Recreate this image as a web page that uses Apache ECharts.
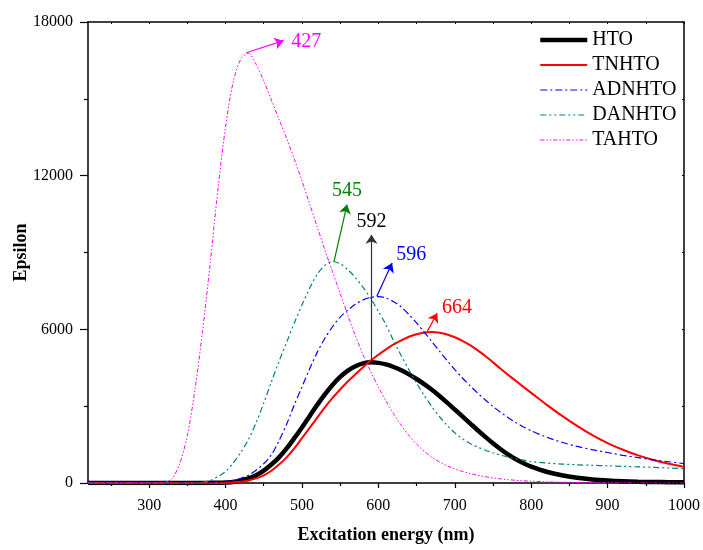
<!DOCTYPE html>
<html>
<head>
<meta charset="utf-8">
<script src="https://cdn.jsdelivr.net/npm/echarts@6/dist/echarts.min.js"></script>
<style>
    html, body { margin: 0; padding: 0; background: #fff; }
    #chart { width: 703px; height: 550px; }
</style>
</head>
<body>
<div id="chart"></div>
<script>
// wavelength grid (nm)
const wavelength = [220, 300, 310, 320, 330, 340, 350, 360, 370, 380, 390, 400, 410, 420, 430, 440, 450, 460, 470, 480, 490,
    500, 510, 520, 530, 540, 550, 560, 570, 580, 590, 600, 610, 620, 630, 640, 650, 660, 670, 680, 690,
    700, 710, 720, 730, 740, 750, 760, 770, 780, 790, 800, 820, 840, 860, 880, 900, 920, 940, 960, 980, 1000];

// epsilon values on that grid
const hto = [0, 0, 0, 0, 0, 0, 0, 0, 0, 5, 10, 20, 40, 100, 180, 300, 480, 720, 1000, 1350, 1750,
    2170, 2610, 3050, 3460, 3830, 4140, 4390, 4560, 4670, 4710, 4690, 4630, 4530, 4400, 4240, 4060, 3860, 3640, 3400, 3140,
    2870, 2600, 2330, 2060, 1800, 1550, 1320, 1110, 925, 770, 640, 440, 300, 205, 140, 95, 65, 48, 38, 32, 28];
const tnhto = [0, 0, 0, 0, 0, 0, 0, 0, 0, 0, 0, 0, 20, 50, 100, 180, 300, 480, 720, 1000, 1350,
    1750, 2150, 2550, 2950, 3320, 3650, 3960, 4250, 4520, 4780, 5010, 5220, 5410, 5570, 5710, 5810, 5880, 5900, 5870, 5800,
    5690, 5550, 5380, 5180, 4960, 4710, 4460, 4220, 3980, 3750, 3520, 3060, 2630, 2230, 1870, 1560, 1300, 1080, 900, 750, 630];
const adnhto = [0, 0, 0, 0, 0, 0, 0, 0, 0, 0, 20, 50, 100, 180, 300, 500, 750, 1100, 1650, 2300, 3050,
    3750, 4450, 5100, 5650, 6100, 6480, 6750, 6980, 7150, 7250, 7280, 7220, 7080, 6870, 6580, 6250, 5890, 5520, 5150, 4780,
    4430, 4100, 3800, 3510, 3240, 2990, 2760, 2550, 2360, 2190, 2040, 1790, 1590, 1430, 1300, 1190, 1080, 990, 900, 830, 760];
const danhto = [0, 0, 0, 0, 0, 0, 0, 0, 30, 100, 250, 450, 780, 1200, 1700, 2350, 3120, 3950, 4750, 5500, 6250,
    6950, 7600, 8150, 8500, 8650, 8560, 8330, 8020, 7640, 7200, 6710, 6180, 5550, 4970, 4420, 3900, 3420, 2980, 2590, 2250,
    1960, 1730, 1540, 1400, 1280, 1180, 1090, 1010, 940, 890, 840, 780, 740, 710, 690, 670, 650, 630, 610, 585, 560];
const tahto = [0, 0, 0, 20, 170, 750, 1850, 3650, 5950, 8600, 11450, 13900, 15650, 16550, 16780, 16350, 15700, 14950, 14200, 13450, 12650,
    11800, 10900, 10000, 9100, 8250, 7400, 6550, 5750, 5000, 4350, 3750, 3200, 2700, 2250, 1850, 1520, 1240, 1010, 820, 670,
    550, 450, 370, 300, 245, 200, 160, 130, 105, 85, 70, 45, 30, 20, 13, 8, 5, 3, 1, 0, 0];

const seriesNames = ["HTO", "TNHTO", "ADNHTO", "DANHTO", "TAHTO"];
const seriesValues = [hto, tnhto, adnhto, danhto, tahto];

// peak annotations: label, arrow start, arrow tip (nm, epsilon)
const peakLabels = ["592", "664", "596", "545", "427"];
const arrowFrom = [[591, 4720], [664, 5920], [598, 7290], [542, 8650], [427, 16800]];
const arrowTo = [[591, 9690], [677, 6630], [618, 8590], [559, 10870], [476, 17270]];

// tick values
const xMajorTicks = [300, 400, 500, 600, 700, 800, 900, 1000];
const xMinorTicks = [250, 350, 450, 550, 650, 750, 850, 950];
const xAllTicks = [250, 300, 350, 400, 450, 500, 550, 600, 650, 700, 750, 800, 850, 900, 950, 1000];

const font = "Liberation Serif";
const plain = function (v) { return String(v); };

const looks = [
    { color: "#000000", width: 4.5, type: "solid", arrow: "#333333", text: "#000000", align: "center", vAlign: "bottom", dist: [0, 3] },
    { color: "#ff0000", width: 2, type: "solid", arrow: "#ff0000", text: "#ff0000", align: "left", vAlign: "middle", dist: [10, 6] },
    { color: "#0000ff", width: 1.2, type: [7, 3, 2, 3], arrow: "#0000ff", text: "#0000ff", align: "left", vAlign: "middle", dist: [10, 9] },
    { color: "#008080", width: 1.2, type: [6, 3, 2, 3, 2, 3], arrow: "#008000", text: "#008000", align: "center", vAlign: "bottom", dist: [0, 4] },
    { color: "#ff00ff", width: 1, type: [4, 2, 1.5, 2, 1.5, 2], arrow: "#ff00ff", text: "#ff00ff", align: "left", vAlign: "middle", dist: [8, -4] },
];

const chart = echarts.init(document.getElementById("chart"), null, { renderer: "canvas" });

const series = seriesNames.map(function (name, i) {
    const lk = looks[i];
    return {
        name: name,
        type: "line",
        xAxisIndex: 0,
        yAxisIndex: 0,
        smooth: 0.3,
        symbol: "none",
        showSymbol: false,
        data: wavelength.map(function (w, k) { return [w, seriesValues[i][k]]; }),
        itemStyle: { color: lk.color },
        lineStyle: { color: lk.color, width: lk.width, type: lk.type },
        markLine: {
            silent: true,
            symbol: ["none", "arrow"],
            symbolSize: 9,
            lineStyle: { type: "solid", width: 1.2, color: lk.arrow },
            itemStyle: { color: lk.arrow },
            label: {
                show: true,
                position: "end",
                formatter: peakLabels[i],
                color: lk.text,
                fontSize: 20,
                fontFamily: font,
                align: lk.align,
                verticalAlign: lk.vAlign,
                distance: lk.dist,
            },
            emphasis: { disabled: true },
            data: [[{ coord: arrowFrom[i] }, { coord: arrowTo[i] }]],
        },
    };
});

chart.setOption({
    animation: false,
    backgroundColor: "#ffffff",
    grid: { left: 88, right: 19, top: 22, bottom: 67, outerBoundsMode: "none" },
    legend: {
        data: seriesNames,
        orient: "vertical",
        left: 538,
        top: 30,
        padding: 0,
        itemWidth: 47,
        itemHeight: 14,
        itemGap: 5,
        itemStyle: { opacity: 0, borderWidth: 0 },
        lineStyle: { width: "inherit" },
        textStyle: { fontSize: 20, fontFamily: font, color: "#000" },
    },
    xAxis: [
        {
            type: "value",
            position: "bottom",
            min: 220,
            max: 1000,
            name: "Excitation energy (nm)",
            nameLocation: "middle",
            nameGap: 43,
            nameMoveOverlap: false,
            nameTextStyle: { fontSize: 18, fontWeight: "bold", fontFamily: font, color: "#000" },
            axisLine: { lineStyle: { color: "#000", width: 1.5 } },
            axisTick: { customValues: xMajorTicks, length: 5, lineStyle: { color: "#000", width: 1.2 } },
            axisLabel: { customValues: xMajorTicks, formatter: plain, margin: 15, fontSize: 16, fontFamily: font, color: "#000" },
            splitLine: { show: false },
        },
        {
            type: "value",
            position: "bottom",
            min: 220,
            max: 1000,
            axisLine: { show: false },
            axisTick: { customValues: xMinorTicks, length: 3, lineStyle: { color: "#000", width: 1.2 } },
            axisLabel: { show: false },
            splitLine: { show: false },
        },
        {
            type: "value",
            position: "top",
            min: 220,
            max: 1000,
            axisLine: { lineStyle: { color: "#000", width: 1.5 } },
            axisTick: { customValues: xAllTicks, inside: true, length: 2, lineStyle: { color: "#000", width: 1 } },
            axisLabel: { show: false },
            splitLine: { show: false },
        },
    ],
    yAxis: [
        {
            type: "value",
            position: "left",
            min: 0,
            max: 18000,
            interval: 6000,
            name: "Epsilon",
            nameLocation: "middle",
            nameGap: 58,
            nameRotate: 90,
            nameMoveOverlap: false,
            nameTextStyle: { fontSize: 18, fontWeight: "bold", fontFamily: font, color: "#000" },
            axisLine: { show: true, lineStyle: { color: "#000", width: 1.5 } },
            axisTick: { show: true, length: 8, lineStyle: { color: "#000", width: 1.2 } },
            minorTick: { show: true, splitNumber: 2, length: 4, lineStyle: { color: "#000", width: 1.2 } },
            axisLabel: { formatter: plain, margin: 15, fontSize: 16, fontFamily: font, color: "#000" },
            splitLine: { show: false },
        },
        {
            type: "value",
            position: "right",
            min: 0,
            max: 18000,
            interval: 6000,
            axisLine: { show: true, lineStyle: { color: "#000", width: 1.5 } },
            axisTick: { show: true, inside: true, length: 2, lineStyle: { color: "#000", width: 1 } },
            minorTick: { show: true, splitNumber: 2, length: 2, lineStyle: { color: "#000", width: 1 } },
            axisLabel: { show: false },
            splitLine: { show: false },
        },
    ],
    series: series,
});
</script>
</body>
</html>
